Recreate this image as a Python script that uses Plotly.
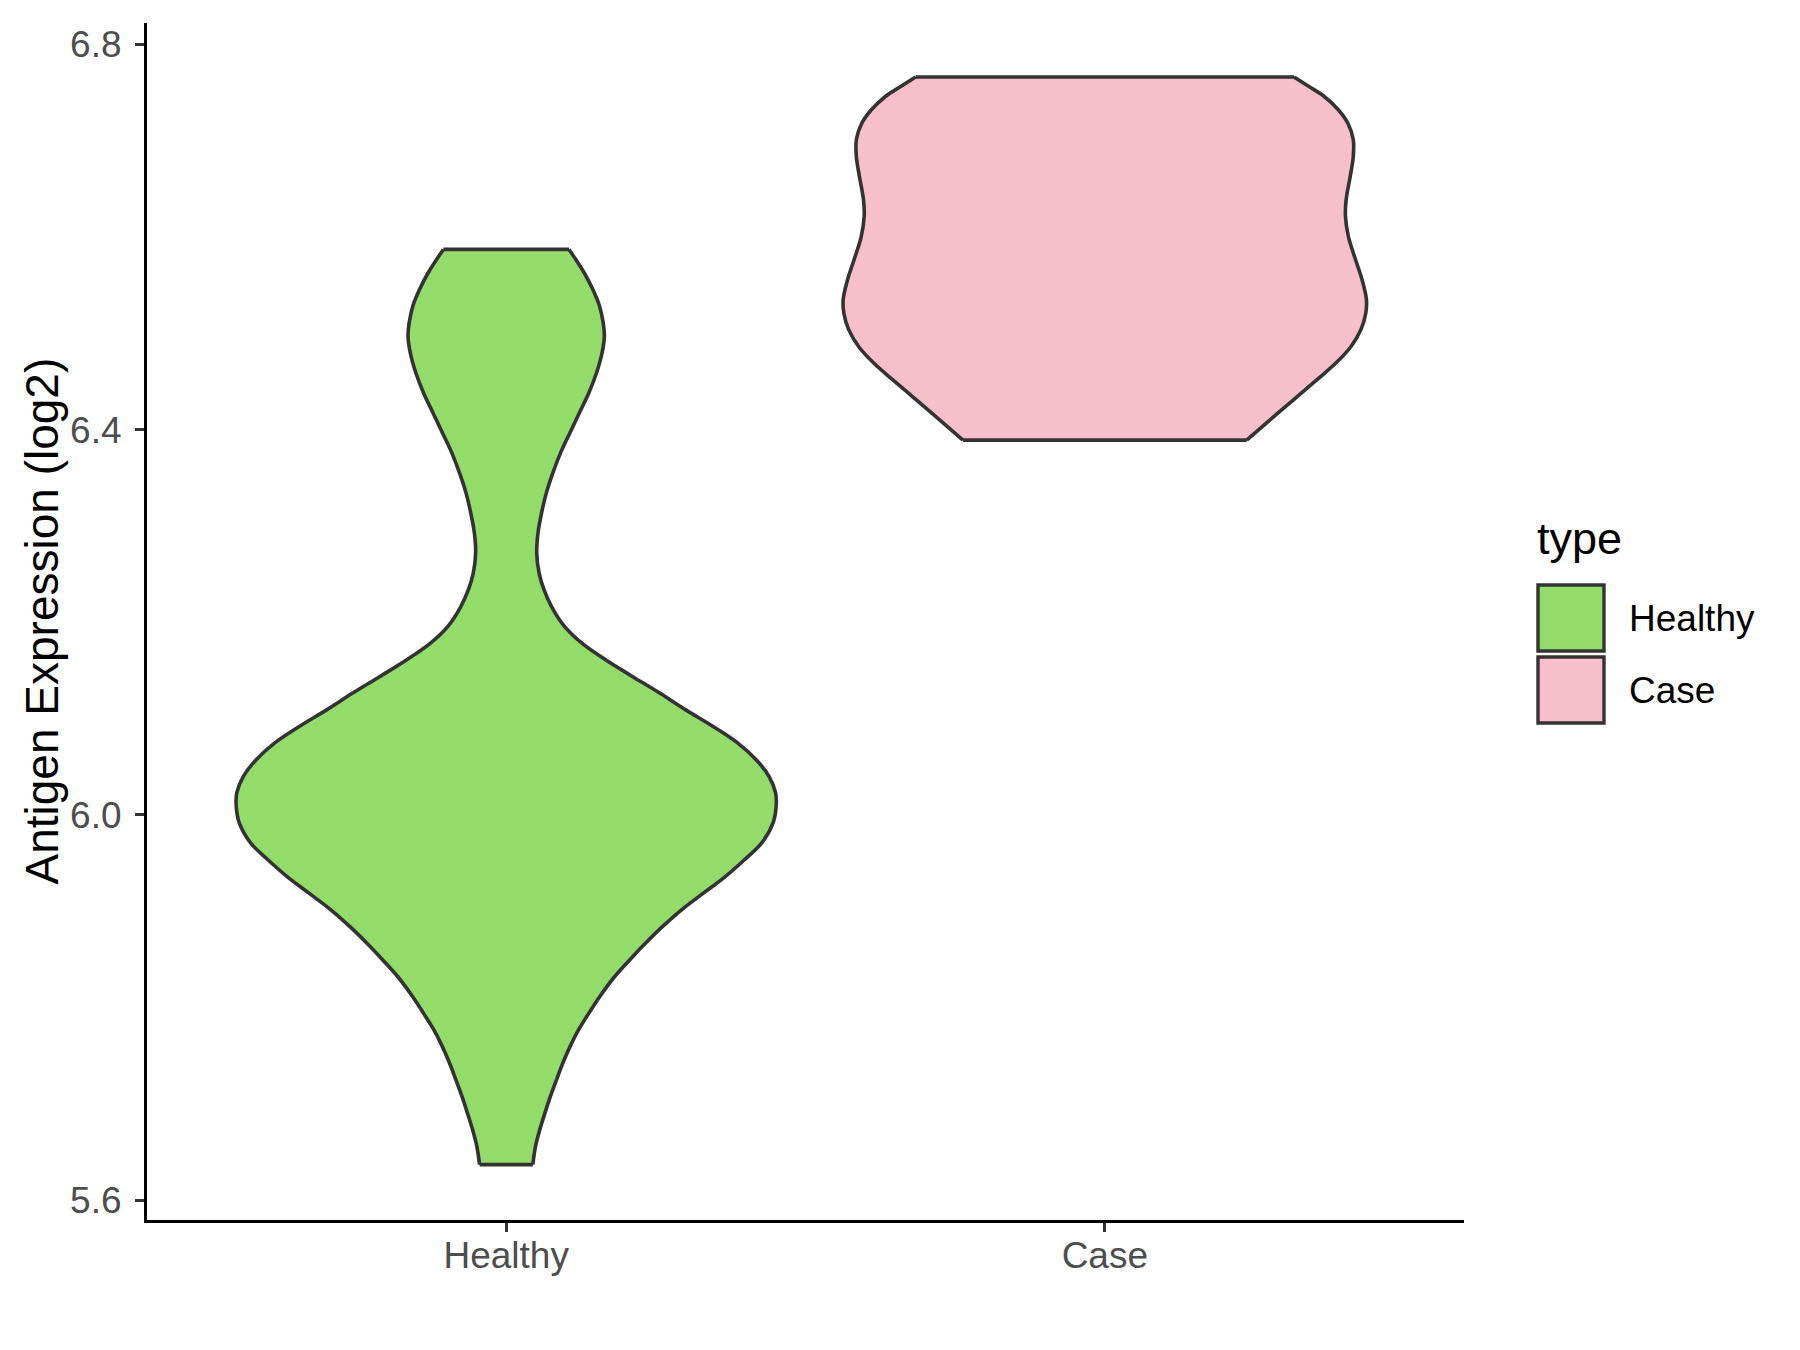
import plotly.graph_objects as go

# ---------------- data ----------------
categories = ["Healthy", "Case"]
cat_pos = [1, 2]
fill_colors = ["#93DC6A", "#F7BFCB"]

# density profile: expression level (log2) and violin half-width (category units)
healthy_y = [5.637, 5.656, 5.673, 5.691, 5.708, 5.725, 5.743, 5.760, 5.777, 5.794,
             5.812, 5.832, 5.850, 5.867, 5.884, 5.902, 5.919, 5.936, 5.954, 5.971,
             5.992, 6.009, 6.023, 6.040, 6.057, 6.075, 6.092, 6.109, 6.127, 6.144,
             6.161, 6.178, 6.196, 6.216, 6.234, 6.251, 6.272, 6.292, 6.313, 6.334,
             6.355, 6.376, 6.396, 6.417, 6.438, 6.459, 6.479, 6.497, 6.511, 6.528,
             6.545, 6.562, 6.587]
healthy_hw = [0.0445, 0.049, 0.056, 0.065, 0.074, 0.084, 0.095, 0.107, 0.121, 0.138,
              0.157, 0.181, 0.207, 0.233, 0.261, 0.294, 0.330, 0.366, 0.399, 0.427,
              0.446, 0.451, 0.450, 0.439, 0.418, 0.386, 0.345, 0.300, 0.255, 0.210,
              0.166, 0.127, 0.097, 0.076, 0.063, 0.055, 0.051, 0.053, 0.059, 0.067,
              0.078, 0.091, 0.106, 0.122, 0.138, 0.151, 0.160, 0.164, 0.162, 0.156,
              0.145, 0.131, 0.105]

case_y = [6.389, 6.403, 6.417, 6.434, 6.452, 6.469, 6.486, 6.504, 6.521, 6.535,
          6.555, 6.576, 6.600, 6.621, 6.638, 6.663, 6.683, 6.701, 6.718, 6.732,
          6.746, 6.756, 6.766]
case_hw = [0.237, 0.263, 0.289, 0.321, 0.355, 0.386, 0.411, 0.428, 0.436, 0.437,
           0.430, 0.419, 0.407, 0.402, 0.403, 0.410, 0.415, 0.415, 0.406, 0.390,
           0.366, 0.341, 0.316]

y_ticks = [5.6, 6.0, 6.4, 6.8]
y_range = [5.5795, 6.822]
x_range = [0.4, 2.6]

# ---------------- figure ----------------
W, H = 1800, 1350
L, R, T, B = 147, 1464, 23, 1220
FONT = "Liberation Sans, Arial, sans-serif"
OUTLINE = "#333333"
LW = 3.6


def px_x(x):
    return (x - L) / (R - L)


def px_y(y):
    return (B - y) / (B - T)


fig = go.Figure()

profiles = [(healthy_y, healthy_hw), (case_y, case_hw)]
for pos, col, (ys, hws) in zip(cat_pos, fill_colors, profiles):
    left_x = [pos - h for h in hws]
    right_x = [pos + h for h in hws]
    fig.add_trace(go.Scatter(
        x=left_x, y=ys, mode="lines",
        line=dict(color=OUTLINE, width=LW, shape="spline", smoothing=1.0),
        showlegend=False, hoverinfo="skip"))
    fig.add_trace(go.Scatter(
        x=right_x, y=ys, mode="lines", fill="tonextx", fillcolor=col,
        line=dict(color=OUTLINE, width=LW, shape="spline", smoothing=1.0),
        showlegend=False, hoverinfo="skip"))
    # flat top and bottom edges
    fig.add_trace(go.Scatter(
        x=[left_x[0], right_x[0], None, left_x[-1], right_x[-1]],
        y=[ys[0], ys[0], None, ys[-1], ys[-1]],
        mode="lines", line=dict(color=OUTLINE, width=LW),
        showlegend=False, hoverinfo="skip"))

axis_common = dict(
    showgrid=False, zeroline=False, showline=True, linecolor="black", linewidth=3.2,
    ticks="outside", ticklen=9, tickwidth=3.2, tickcolor=OUTLINE,
    tickfont=dict(family=FONT, size=37, color="#4D4D4D"),
)

fig.update_layout(
    width=W, height=H,
    margin=dict(l=L, r=W - R, t=T, b=H - B, autoexpand=False),
    plot_bgcolor="white", paper_bgcolor="white",
    font=dict(family=FONT),
    xaxis=dict(range=x_range, tickvals=cat_pos, ticktext=categories,
               ticklabelstandoff=-9, **axis_common),
    yaxis=dict(range=y_range, tickvals=y_ticks, tickformat=".1f",
               ticklabelstandoff=6, **axis_common),
)

# y-axis title
fig.add_annotation(x=px_x(41), y=0.5, xref="paper", yref="paper",
                   text="Antigen Expression (log2)", textangle=-90, showarrow=False,
                   xanchor="center", yanchor="middle",
                   font=dict(family=FONT, size=46, color="black"))

# legend (manual, ggplot-style keys)
fig.add_annotation(x=px_x(1535), y=px_y(538), xref="paper", yref="paper",
                   text="type", showarrow=False, xanchor="left", yanchor="middle",
                   font=dict(family=FONT, size=45, color="black"))
key_tops = [585, 657]
for name, col, top in zip(categories, fill_colors, key_tops):
    fig.add_shape(type="rect", xref="paper", yref="paper",
                  x0=px_x(1538), x1=px_x(1604), y0=px_y(top + 66), y1=px_y(top),
                  fillcolor=col, line=dict(color=OUTLINE, width=3.4))
    fig.add_annotation(x=px_x(1627), y=px_y(top + 33), xref="paper", yref="paper",
                       text=name, showarrow=False, xanchor="left", yanchor="middle",
                       font=dict(family=FONT, size=37, color="black"))

fig.write_html("out.html", config={"displayModeBar": False},
               post_script="document.body.style.margin='0';")
